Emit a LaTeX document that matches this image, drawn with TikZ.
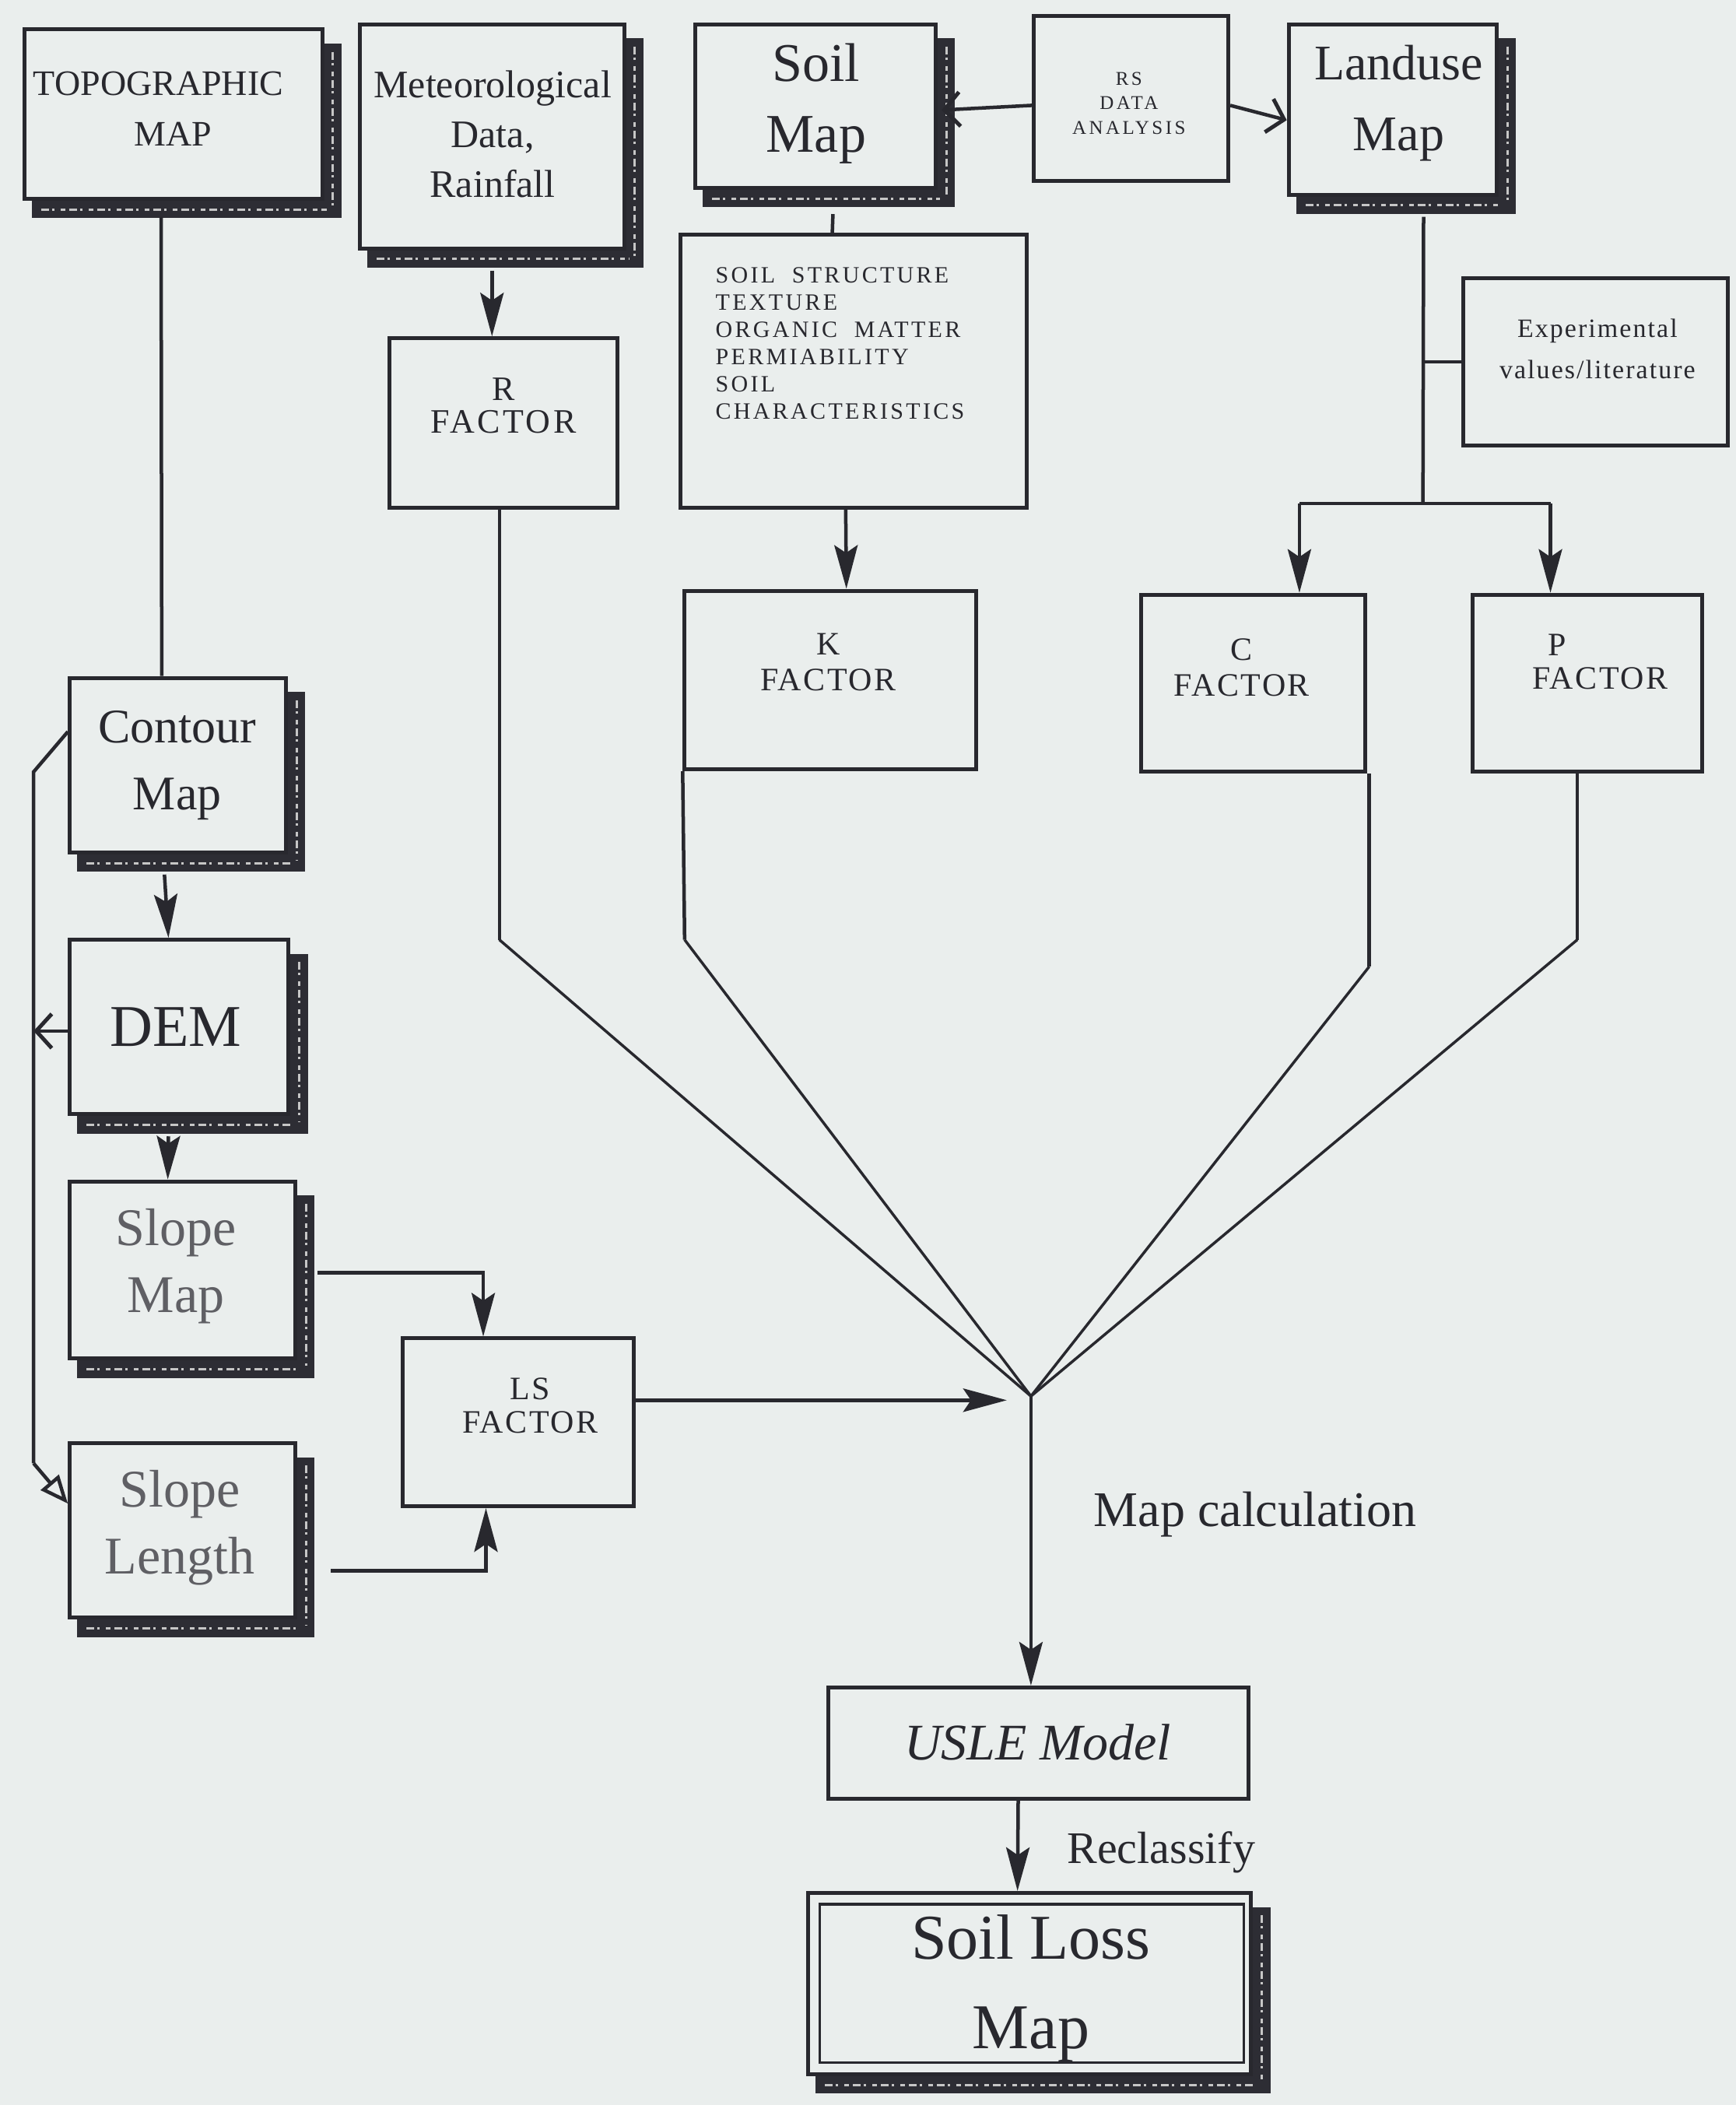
\documentclass[tikz,border=0pt]{standalone}
\usepackage{fontspec}
\setmainfont{Liberation Serif}
\usetikzlibrary{arrows.meta,calc,fit}

\definecolor{paper}{RGB}{234,238,237}
\definecolor{ink}{RGB}{40,40,46}
\definecolor{softink}{RGB}{95,95,100}
\definecolor{shadowink}{RGB}{45,45,52}

\newcommand\fs[2]{\fontsize{#1}{#2}\selectfont}

% dark textured drop shadow along the right and bottom side of a box
\newcommand\dropshade[1]{%
  \fill[shadowink] ($(#1.north east)+(0,12)$) rectangle ($(#1.south east)+(13,13)$);
  \fill[shadowink] ($(#1.south west)+(7,0)$) rectangle ($(#1.south east)+(13,13)$);
  \draw[grain] ($(#1.north east)+(6.5,18)$) -- ($(#1.south east)+(6.5,4)$);
  \draw[grain] ($(#1.south west)+(14,6.5)$) -- ($(#1.south east)+(2,6.5)$);
}

\tikzset{
  box/.style={draw=ink, line width=5pt, inner sep=0pt, fill=paper},
  lbl/.style={text=ink, align=center, inner sep=0pt},
  grain/.style={draw=gray!45, line width=3pt,
    dash pattern=on 10pt off 4pt on 3pt off 8pt on 6pt off 5pt},
  wire/.style={draw=ink, line width=4.5pt},
  thinwire/.style={draw=ink, line width=3.5pt},
  arr/.style={wire, -{Stealth[length=56pt,width=30pt,inset=10pt]}},
  barb/.style={wire, -{Straight Barb[length=20pt,width=44pt,line width=5pt]}},
  opentip/.style={wire, -{Triangle[open,length=36pt,width=30pt,line width=4.5pt]}},
}

\begin{document}
\begin{tikzpicture}[x=1.7247pt,y=-1.7247pt]
\fill[paper] (0,0) rectangle (1293,1568);
\useasboundingbox (0,0) rectangle (1293,1568);

% ---------- boxes ----------
\node[box, fit={(18,22) (240,148)}] (topo) {};
\node[box, fit={(268,18) (465,185)}] (met) {};
\node[box, fit={(518,18) (697,140)}] (soil) {};
\node[box, fit={(770,12) (915,135)}] (rs) {};
\node[box, fit={(960,18) (1115,145)}] (landuse) {};
\node[box, fit={(507,175) (765,378)}] (soilchar) {};
\node[box, fit={(290,252) (460,378)}] (rfac) {};
\node[box, fit={(1090,207) (1287,332)}] (exper) {};
\node[box, fit={(510,440) (727,573)}] (kfac) {};
\node[box, fit={(850,443) (1017,575)}] (cfac) {};
\node[box, fit={(1097,443) (1268,575)}] (pfac) {};
\node[box, fit={(52,505) (213,635)}] (contour) {};
\node[box, fit={(52,700) (215,830)}] (dem) {};
\node[box, fit={(52,880) (220,1012)}] (slope) {};
\node[box, fit={(52,1075) (220,1205)}] (slen) {};
\node[box, fit={(300,997) (472,1122)}] (ls) {};
\node[box, fit={(617,1257) (930,1340)}] (usle) {};
\node[box, fit={(602,1410) (932,1545)}] (loss) {};
\draw[ink, line width=3.5pt] ($(loss.north west)+(10,10)$) rectangle ($(loss.south east)+(-7,-10)$);

\dropshade{topo}
\dropshade{met}
\dropshade{soil}
\dropshade{landuse}
\dropshade{contour}
\dropshade{dem}
\dropshade{slope}
\dropshade{slen}
\dropshade{loss}

% ---------- texts ----------
\node[lbl, font=\fs{46}{65}] at (118,81) {TOPOGRAPHIC\\\hspace*{38pt}MAP};
\node[lbl, font=\fs{50}{64}] at (367,100) {Meteorological\\Data,\\Rainfall};
\node[lbl, font=\fs{70}{91}] at (608,77) {Soil\\Map};
\node[lbl, font=\fs{25}{31}\addfontfeatures{LetterSpace=14}] at (841,77) {RS\\DATA\\ANALYSIS};
\node[lbl, font=\fs{64}{91}] at (1042,77) {Landuse\\Map};
\node[lbl, align=left, anchor=west, font=\fs{30}{35}\addfontfeatures{LetterSpace=11}] at (533,256)
  {SOIL\ \ STRUCTURE\\TEXTURE\\ORGANIC\ \ MATTER\\PERMIABILITY\\SOIL\\CHARACTERISTICS};
\node[lbl, font=\fs{44}{42}\addfontfeatures{LetterSpace=8}] at (375,302) {R\\FACTOR};
\node[lbl, font=\fs{34}{53}\addfontfeatures{LetterSpace=6}] at (1190,260) {Experimental\\values/literature};
\node[lbl, font=\fs{42}{46}\addfontfeatures{LetterSpace=6}] at (617,493) {K\\FACTOR};
\node[lbl, font=\fs{42}{46}\addfontfeatures{LetterSpace=6}] at (925,497) {C\\FACTOR};
\node[lbl, font=\fs{42}{43}\addfontfeatures{LetterSpace=6}] at (1192,493) {P\hspace*{110pt}\\FACTOR};
\node[lbl, font=\fs{62}{86}] at (132,570) {Contour\\Map};
\node[lbl, font=\fs{76}{86}] at (131,765) {DEM};
\node[lbl, text=softink, font=\fs{68}{86}] at (131,943) {Slope\\Map};
\node[lbl, text=softink, font=\fs{68}{86}] at (134,1138) {Slope\\Length};
\node[lbl, font=\fs{42}{43}\addfontfeatures{LetterSpace=6}] at (395,1047) {LS\\FACTOR};
\node[lbl, font=\fs{66}{80}\itshape] at (773,1298) {USLE Model};
\node[lbl, font=\fs{82}{115}] at (768,1481) {Soil Loss\\Map};

% ---------- routing points ----------
\coordinate (conv) at (768,1040);
\coordinate (rbend) at (372,700);
\coordinate (kbend) at (510,700);
\coordinate (cbend) at (1020,720);
\coordinate (pbend) at (1175,700);
\coordinate (lusplit) at (1060,375);
\coordinate (cdrop) at (968,375);
\coordinate (pdrop) at (1155,375);
\coordinate (loopa) at (25,575);
\coordinate (loopb) at (25,1090);
\coordinate (slhook) at (360,948);
\coordinate (slenhook) at (362,1170);
\coordinate (lsin) at (750,1043);

% ---------- connectors ----------
% topographic map down to contour map
\draw[wire] ($(topo.south)+(-9,12)$) -- ($(contour.north)+(-12,0)$);
% meteorological data to R factor
\draw[arr] ($(met.south)+(0,15)$) -- (rfac.north -| {$(met.south)$});
% RS analysis feeding soil and landuse maps
\draw[barb] ($(rs.west)+(0,5)$) -- ($(soil.east)+(3,3)$);
\draw[barb] ($(rs.east)+(0,5)$) -- ($(landuse.west)+(0,8)$);
% soil map to soil characteristics
\draw[wire] ($(soil.south)+(13,18)$) -- ($(soilchar.north)+(-16,0)$);
% soil characteristics to K factor
\draw[arr] ($(soilchar.south)+(-6,0)$) -- ($(kfac.north)+(12,0)$);
% landuse map branch to C and P factors
\draw[wire] ($(landuse.south)+(23,15)$) -- (lusplit);
\draw[wire] (lusplit |- exper.west) -- (exper.west);
\draw[wire] (cdrop) -- (pdrop);
\draw[arr] (cdrop) -- (cdrop |- cfac.north);
\draw[arr] (pdrop) -- (pdrop |- pfac.north);
% factors converge on the map calculation point
\draw[wire] (rbend |- rfac.south) -- (rbend);
\draw[thinwire] (rbend) -- (conv);
\draw[wire] (kfac.south west) -- (kbend);
\draw[thinwire] (kbend) -- (conv);
\draw[wire] (cbend |- cfac.south) -- (cbend);
\draw[thinwire] (cbend) -- (conv);
\draw[wire] (pbend |- pfac.south) -- (pbend);
\draw[thinwire] (pbend) -- (conv);
\draw[arr] (ls.east |- lsin) -- (lsin);
\draw[arr] (conv) -- (conv |- usle.north);
\node[lbl, font=\fs{64}{70}] at (935,1128) {Map calculation};
% USLE model reclassified into the soil loss map
\draw[arr] ($(usle.south)+(-15,0)$) -- ($(loss.north)+(-9,0)$);
\node[lbl, font=\fs{58}{60}] at (865,1380) {Reclassify};
% terrain chain on the left
\draw[arr] ($(contour.south)+(-10,15)$) -- ($(dem.north)+(-8,0)$);
\draw[arr] ($(dem.south)+(-8,15)$) -- ($(slope.north)+(-11,0)$);
\draw[wire] ($(contour.west)+(0,-25)$) -- (loopa) -- (loopb);
\draw[opentip] (loopb) -- ($(slen.west)+(0,-20)$);
\draw[barb] ($(dem.west)+(0,3)$) -- (loopa |- {$(dem.west)+(0,3)$});
% slope map and slope length into LS factor
\draw[arr] ($(slope.east)+(15,2)$) -- (slhook) -- (slhook |- ls.north);
\draw[arr] ($(slen.east)+(25,30)$) -- (slenhook) -- (slenhook |- ls.south);
\end{tikzpicture}
\end{document}
